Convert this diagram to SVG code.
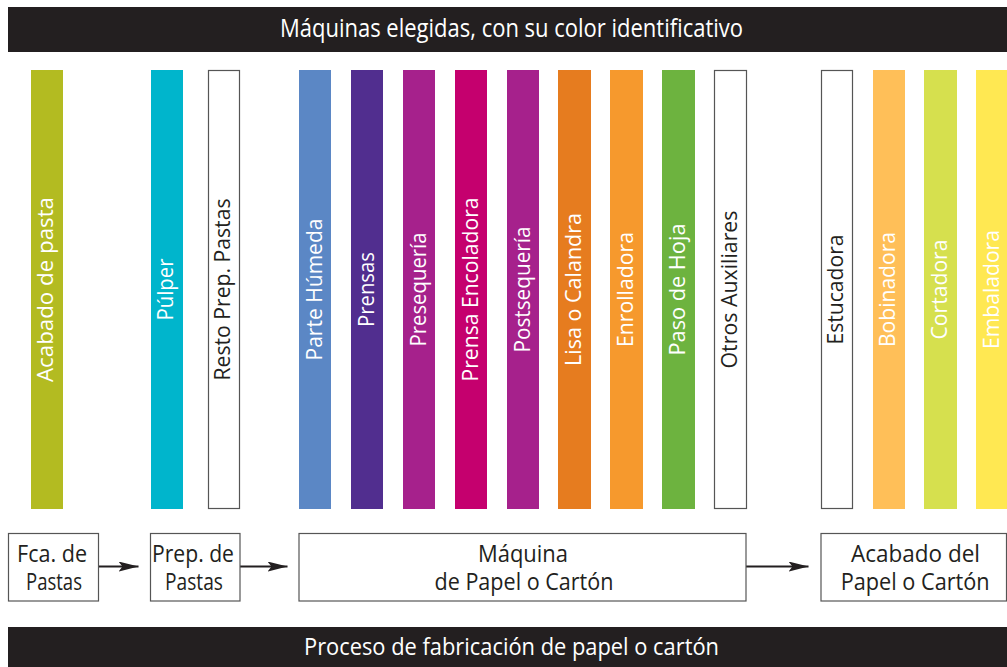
<svg xmlns="http://www.w3.org/2000/svg" width="1007" height="667" viewBox="0 0 1007 667">
<style>
.hdr{fill:#231f20}
.hdrt{fill:#ffffff;font-family:"Open Sans","Noto Sans",sans-serif;font-size:25px;text-anchor:middle}
.bar{stroke:none}
.wbar{fill:#ffffff;stroke:#555555;stroke-width:1.2}
.bt{font-family:"Open Sans","Noto Sans",sans-serif;font-size:21px;text-anchor:middle;fill:#ffffff}
.bt.dk{fill:#231f20}
.box{fill:#ffffff;stroke:#555555;stroke-width:1.2}
.boxt{font-family:"Open Sans","Noto Sans",sans-serif;font-size:23px;text-anchor:middle;fill:#231f20}
.conn{stroke:#231f20;stroke-width:2;fill:none}
</style>
<defs>
<marker id="ah" markerUnits="userSpaceOnUse" markerWidth="22" markerHeight="12" refX="20" refY="5" orient="auto">
<path d="M0,0 L20,5 L0,10 L4,5 z" fill="#231f20"/>
</marker>
</defs>
<g id="title">
<rect class="hdr" x="8" y="7" width="999" height="45"/>
<text class="hdrt" x="511.5" y="36.5" textLength="463" lengthAdjust="spacingAndGlyphs">Máquinas elegidas, con su color identificativo</text>
</g>
<g id="bar-acabado-pasta"><rect class="bar" x="31" y="70" width="32" height="439" fill="#b3bb21"/><text class="bt" transform="translate(53,289.5) rotate(-90)" textLength="185" lengthAdjust="spacingAndGlyphs">Acabado de pasta</text></g>
<g id="bar-pulper"><rect class="bar" x="151" y="70" width="32" height="439" fill="#00b5cc"/><text class="bt" transform="translate(173,289.5) rotate(-90)" textLength="62" lengthAdjust="spacingAndGlyphs">Púlper</text></g>
<g id="bar-resto"><rect class="wbar" x="208.5" y="70.5" width="31" height="438"/><text class="bt dk" transform="translate(230,289.5) rotate(-90)" textLength="182" lengthAdjust="spacingAndGlyphs">Resto Prep. Pastas</text></g>
<g id="bar-parte-humeda"><rect class="bar" x="299" y="70" width="32" height="439" fill="#5b87c5"/><text class="bt" transform="translate(322,289.5) rotate(-90)" textLength="142" lengthAdjust="spacingAndGlyphs">Parte Húmeda</text></g>
<g id="bar-prensas"><rect class="bar" x="351" y="70" width="32" height="439" fill="#512e8f"/><text class="bt" transform="translate(374,289.5) rotate(-90)" textLength="75" lengthAdjust="spacingAndGlyphs">Prensas</text></g>
<g id="bar-presequeria"><rect class="bar" x="403" y="70" width="32" height="439" fill="#a6218c"/><text class="bt" transform="translate(426,289.5) rotate(-90)" textLength="114" lengthAdjust="spacingAndGlyphs">Presequería</text></g>
<g id="bar-prensa-encoladora"><rect class="bar" x="455" y="70" width="32" height="439" fill="#c5006e"/><text class="bt" transform="translate(478,289.5) rotate(-90)" textLength="184" lengthAdjust="spacingAndGlyphs">Prensa Encoladora</text></g>
<g id="bar-postsequeria"><rect class="bar" x="507" y="70" width="32" height="439" fill="#a6218c"/><text class="bt" transform="translate(530,289.5) rotate(-90)" textLength="126" lengthAdjust="spacingAndGlyphs">Postsequería</text></g>
<g id="bar-lisa"><rect class="bar" x="558" y="70" width="33" height="439" fill="#e67c1f"/><text class="bt" transform="translate(581,289.5) rotate(-90)" textLength="153" lengthAdjust="spacingAndGlyphs">Lisa o Calandra</text></g>
<g id="bar-enrolladora"><rect class="bar" x="610" y="70" width="33" height="439" fill="#f6992d"/><text class="bt" transform="translate(633,289.5) rotate(-90)" textLength="115" lengthAdjust="spacingAndGlyphs">Enrolladora</text></g>
<g id="bar-paso-hoja"><rect class="bar" x="662" y="70" width="33" height="439" fill="#6db33f"/><text class="bt" transform="translate(685,289.5) rotate(-90)" textLength="132" lengthAdjust="spacingAndGlyphs">Paso de Hoja</text></g>
<g id="bar-otros"><rect class="wbar" x="714.5" y="70.5" width="32" height="438"/><text class="bt dk" transform="translate(737,289.5) rotate(-90)" textLength="158" lengthAdjust="spacingAndGlyphs">Otros Auxiliares</text></g>
<g id="bar-estucadora"><rect class="wbar" x="821.5" y="70.5" width="31" height="438"/><text class="bt dk" transform="translate(843,289.5) rotate(-90)" textLength="110" lengthAdjust="spacingAndGlyphs">Estucadora</text></g>
<g id="bar-bobinadora"><rect class="bar" x="873" y="70" width="32" height="439" fill="#ffbf58"/><text class="bt" transform="translate(895,289.5) rotate(-90)" textLength="115" lengthAdjust="spacingAndGlyphs">Bobinadora</text></g>
<g id="bar-cortadora"><rect class="bar" x="924" y="70" width="33" height="439" fill="#d6e04e"/><text class="bt" transform="translate(947,289.5) rotate(-90)" textLength="100" lengthAdjust="spacingAndGlyphs">Cortadora</text></g>
<g id="bar-embaladora"><rect class="bar" x="976" y="70" width="33" height="439" fill="#ffe852"/><text class="bt" transform="translate(999,289.5) rotate(-90)" textLength="119" lengthAdjust="spacingAndGlyphs">Embaladora</text></g>
<g id="connectors">
<line class="conn" x1="98.5" y1="566.5" x2="138.5" y2="566.5" marker-end="url(#ah)"/>
<line class="conn" x1="240" y1="566.5" x2="287.5" y2="566.5" marker-end="url(#ah)"/>
<line class="conn" x1="746" y1="566.5" x2="808.5" y2="566.5" marker-end="url(#ah)"/>
</g>
<g id="box-fca">
<rect class="box" x="8.5" y="533.5" width="90" height="67.5"/>
<text class="boxt" x="52" y="561.7" textLength="70" lengthAdjust="spacingAndGlyphs">Fca. de</text>
<text class="boxt" x="54" y="590" textLength="56" lengthAdjust="spacingAndGlyphs">Pastas</text>
</g>
<g id="box-prep">
<rect class="box" x="150.5" y="533.5" width="89.5" height="67.5"/>
<text class="boxt" x="193" y="561.7" textLength="82" lengthAdjust="spacingAndGlyphs">Prep. de</text>
<text class="boxt" x="194" y="590" textLength="58" lengthAdjust="spacingAndGlyphs">Pastas</text>
</g>
<g id="box-maquina">
<rect class="box" x="299" y="533.5" width="447" height="67.5"/>
<text class="boxt" x="523" y="561.7" textLength="90" lengthAdjust="spacingAndGlyphs">Máquina</text>
<text class="boxt" x="524" y="590" textLength="179" lengthAdjust="spacingAndGlyphs">de Papel o Cartón</text>
</g>
<g id="box-acabado">
<rect class="box" x="821" y="533.5" width="185.5" height="67.5"/>
<text class="boxt" x="915.5" y="561.7" textLength="129" lengthAdjust="spacingAndGlyphs">Acabado del</text>
<text class="boxt" x="915.2" y="590" textLength="149" lengthAdjust="spacingAndGlyphs">Papel o Cartón</text>
</g>
<g id="footer">
<rect class="hdr" x="8" y="627" width="999" height="40"/>
<text class="hdrt" style="font-size:23px" x="511.5" y="655" textLength="415" lengthAdjust="spacingAndGlyphs">Proceso de fabricación de papel o cartón</text>
</g>
</svg>
